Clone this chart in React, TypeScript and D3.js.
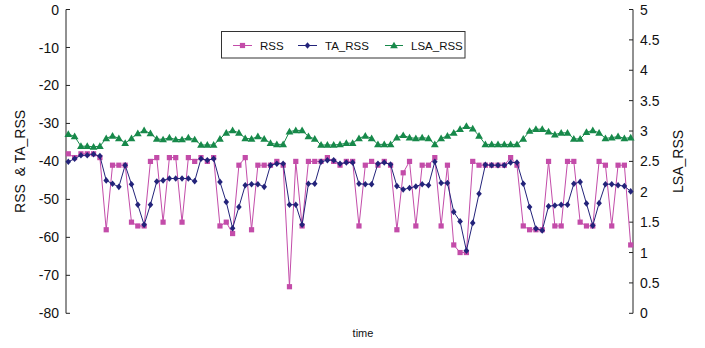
import React from "react";
import { scaleLinear, scalePoint, line, range, symbol, symbolTriangle } from "d3";

// RSS readings, one per time step
const rss = [
  -38, -39, -38, -38, -38, -39, -58, -41, -41, -41,
  -56, -57, -57, -40, -39, -56, -39, -39, -56, -39,
  -40, -39, -40, -39, -57, -56, -59, -41, -39, -58,
  -41, -41, -41, -40, -41, -73, -40, -57, -40, -40,
  -40, -39, -40, -41, -40, -40, -57, -41, -40, -41,
  -40, -41, -58, -43, -40, -57, -41, -41, -39, -57,
  -41, -62, -64, -64, -40, -41, -41, -41, -41, -41,
  -39, -41, -57, -58, -58, -58, -40, -57, -57, -40,
  -40, -56, -57, -57, -40, -41, -57, -41, -41, -62,
];

const taRss = [
  -40.1, -39.3, -38.4, -38.4, -38.1, -38.6, -45.0, -45.9, -46.7, -41.0,
  -46.0, -51.4, -56.7, -51.4, -45.3, -45.0, -44.5, -44.5, -44.5, -44.5,
  -45.2, -39.3, -39.7, -39.3, -45.4, -50.7, -57.6, -52.0, -46.3, -46.0,
  -46.0, -46.7, -41.0, -40.6, -40.6, -51.4, -51.4, -56.7, -45.9, -45.9,
  -40.1, -39.7, -39.7, -40.6, -40.3, -40.3, -45.9, -46.0, -46.0, -40.6,
  -40.3, -40.8, -46.5, -47.4, -47.0, -46.6, -46.0, -46.3, -40.1, -45.7,
  -45.7, -53.3, -55.8, -63.5, -56.2, -48.5, -40.9, -41.0, -41.0, -41.0,
  -40.3, -40.3, -45.9, -52.0, -57.7, -58.2, -51.8, -51.6, -51.4, -51.4,
  -45.9, -45.4, -51.1, -56.9, -51.0, -46.0, -46.0, -46.3, -46.5, -47.9,
];

const lsaRss = [
  2.95, 2.91, 2.75, 2.75, 2.74, 2.75, 2.88, 2.92, 2.88, 2.8,
  2.88, 2.96, 3.01, 2.96, 2.87, 2.86, 2.89, 2.86, 2.86, 2.89,
  2.86, 2.77, 2.77, 2.77, 2.87, 2.97, 3.01, 2.97, 2.88, 2.87,
  2.91, 2.87, 2.8, 2.78, 2.78, 2.99, 3.01, 3.01, 2.91, 2.87,
  2.77, 2.77, 2.77, 2.78, 2.8, 2.8, 2.88, 2.92, 2.88, 2.78,
  2.78, 2.78, 2.89, 2.93, 2.89, 2.88, 2.89, 2.88, 2.78, 2.88,
  2.92, 2.97, 3.03, 3.08, 3.04, 2.92, 2.78, 2.78, 2.78, 2.78,
  2.78, 2.78, 2.87, 3.0, 3.03, 3.03, 2.99, 2.94, 2.97, 2.97,
  2.87, 2.87, 2.98, 3.01, 2.97, 2.88, 2.89, 2.91, 2.88, 2.89,
];

const leftTicks = [0, -10, -20, -30, -40, -50, -60, -70, -80];
const rightTicks = [0, 0.5, 1, 1.5, 2, 2.5, 3, 3.5, 4, 4.5, 5];
const seriesNames = ["RSS", "TA_RSS", "LSA_RSS"];

const PINK = "#c34ca9";
const NAVY = "#23237a";
const GREEN = "#17894a";
const FONT = "'Liberation Sans', Arial, sans-serif";

export default function App() {
  const top = 9.5, bottom = 313.3;
  const axL = 66, axR = 633;

  const x = scalePoint<number>().domain(range(rss.length)).range([68.3, 630.7]);
  const yL = scaleLinear().domain([-80, 0]).range([bottom, top]);
  const yR = scaleLinear().domain([0, 5]).range([bottom, top]);

  const lineL = line<number>().x((d, i) => x(i)!).y(d => yL(d));
  const lineR = line<number>().x((d, i) => x(i)!).y(d => yR(d));
  const tri = symbol().type(symbolTriangle).size(26)()!;

  const square = (cx, cy, key) => (
    <rect key={key} x={cx - 2.6} y={cy - 2.6} width={5.2} height={5.2} fill={PINK} />
  );
  const diamond = (cx, cy, key) => (
    <path key={key} d={`M${cx},${cy - 3.3}L${cx + 2.8},${cy}L${cx},${cy + 3.3}L${cx - 2.8},${cy}Z`} fill={NAVY} />
  );
  const triangle = (cx, cy, key) => (
    <path key={key} d={tri} transform={`translate(${cx},${cy + 0.6})`} fill={GREEN} />
  );

  // legend layout
  const legendY = 45.5;
  const legendItems = [
    { name: seriesNames[0], x0: 233, x1: 252, tx: 260, color: PINK, mark: square },
    { name: seriesNames[1], x0: 298, x1: 317, tx: 325, color: NAVY, mark: diamond },
    { name: seriesNames[2], x0: 385, x1: 403, tx: 411, color: GREEN, mark: triangle },
  ];

  return (
    <svg width={705} height={348} style={{ position: "absolute", left: 0, top: 0, background: "#fff" }}
      fontFamily={FONT}>
      <rect width={705} height={348} fill="#fff" />

      {/* left axis */}
      <line x1={axL} x2={axL} y1={top} y2={bottom} stroke="#222" strokeWidth={1} />
      {leftTicks.map(t => (
        <g key={t}>
          <line x1={axL} x2={axL + 4} y1={yL(t)} y2={yL(t)} stroke="#222" />
          <text x={59} y={yL(t)} dy="0.36em" textAnchor="end" fontSize={14} fill="#111">{t}</text>
        </g>
      ))}
      <text transform={`translate(25,${(top + bottom) / 2}) rotate(-90)`} textAnchor="middle" fontSize={14}
        fill="#111" xmlSpace="preserve">{"RSS  & TA_RSS"}</text>

      {/* right axis */}
      <line x1={axR} x2={axR} y1={top} y2={bottom} stroke="#222" strokeWidth={1} />
      {rightTicks.map(t => (
        <g key={t}>
          <line x1={axR - 4} x2={axR} y1={yR(t)} y2={yR(t)} stroke="#222" />
          <text x={640} y={yR(t)} dy="0.36em" textAnchor="start" fontSize={14} fill="#111">{t}</text>
        </g>
      ))}
      <text transform={`translate(683,${(top + bottom) / 2}) rotate(-90)`} textAnchor="middle" fontSize={14}
        fill="#111">LSA_RSS</text>

      <text x={363} y={337} textAnchor="middle" fontSize={11} fill="#111">time</text>

      {/* series */}
      <path d={lineL(rss)!} fill="none" stroke={PINK} strokeWidth={1} />
      {rss.map((d, i) => square(x(i)!, yL(d), i))}
      <path d={lineL(taRss)!} fill="none" stroke={NAVY} strokeWidth={1} />
      {taRss.map((d, i) => diamond(x(i)!, yL(d), i))}
      <path d={lineR(lsaRss)!} fill="none" stroke={GREEN} strokeWidth={1} />
      {lsaRss.map((d, i) => triangle(x(i)!, yR(d), i))}

      {/* legend */}
      <rect x={221.5} y={31.5} width={243.5} height={26.5} fill="#fff" stroke="#333" strokeWidth={1} />
      {legendItems.map(it => (
        <g key={it.name}>
          <line x1={it.x0} x2={it.x1} y1={legendY} y2={legendY} stroke={it.color} strokeWidth={1} />
          {it.mark((it.x0 + it.x1) / 2, legendY, "m")}
          <text x={it.tx} y={legendY} dy="0.36em" fontSize={11.5} fill="#111">{it.name}</text>
        </g>
      ))}
    </svg>
  );
}
